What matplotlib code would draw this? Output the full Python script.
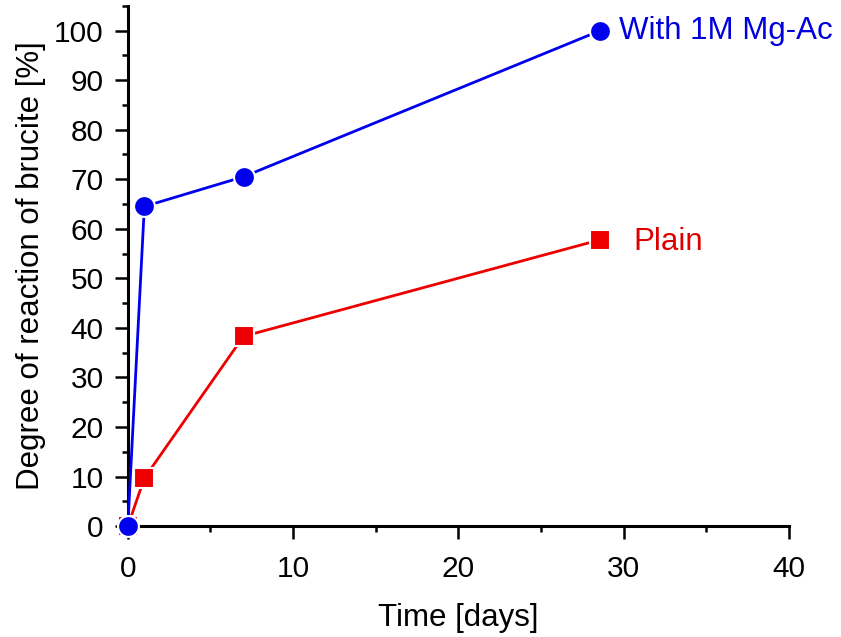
import matplotlib
matplotlib.use("Agg")
import matplotlib.pyplot as plt
from matplotlib.ticker import MultipleLocator

plt.rcParams['font.family'] = ['Liberation Sans', 'DejaVu Sans']

days = [0, 1, 7, 28.6]
mgac = [0, 64.5, 70.5, 100]
plain = [0, 9.7, 38.3, 57.8]
labels = ["With 1M Mg-Ac", "Plain"]

fig = plt.figure(figsize=(8.41, 6.37), dpi=100)
ax = fig.add_axes([0.152, 0.174, 0.786, 0.817])

ax.plot(days, plain, color='#ee0000', lw=2.0, marker='s', ms=14,
        mec='white', mew=1.5, clip_on=False, zorder=3)
ax.plot(days, mgac, color='#0000ee', lw=2.0, marker='o', ms=15,
        mec='white', mew=1.5, clip_on=False, zorder=4)

ax.text(29.7, mgac[-1], labels[0], color='#0000dd', fontsize=22.5,
        va='center', ha='left')
ax.text(30.6, plain[-1] - 0.5, labels[1], color='#dd0000', fontsize=22.5,
        va='center', ha='left')

ax.set_xlim(0, 40)
ax.set_ylim(0, 105)
ax.xaxis.set_major_locator(MultipleLocator(10))
ax.xaxis.set_minor_locator(MultipleLocator(5))
ax.yaxis.set_major_locator(MultipleLocator(10))
ax.yaxis.set_minor_locator(MultipleLocator(5))
ax.set_yticks(range(0, 101, 10))

for s in ['top', 'right']:
    ax.spines[s].set_visible(False)
for s in ['left', 'bottom']:
    ax.spines[s].set_linewidth(2.2)

ax.tick_params(which='major', length=9.5, width=1.8, labelsize=21.5, pad=8)
ax.tick_params(which='minor', length=4.5, width=1.8)
ax.tick_params(axis='x', which='major', pad=11)

ax.set_xlabel("Time [days]", fontsize=22.5, labelpad=15)
ax.set_ylabel("Degree of reaction of brucite [%]", fontsize=22.5, labelpad=6)

fig.savefig("out.png", dpi=100)
